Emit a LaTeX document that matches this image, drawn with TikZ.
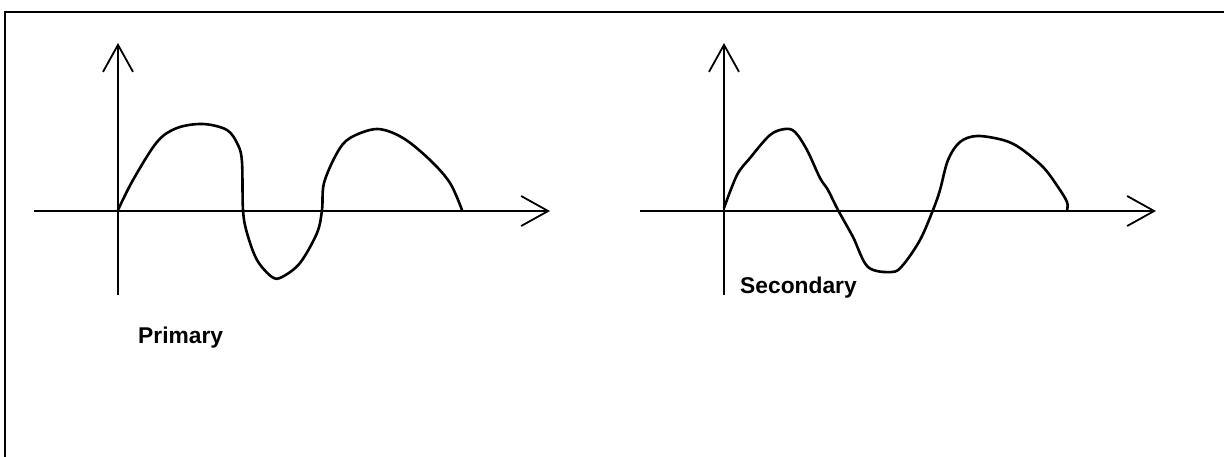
\documentclass[tikz,border=0pt]{standalone}
\usepackage{fontspec}
\setmainfont{Liberation Sans}
\usetikzlibrary{arrows.meta}

\begin{document}
\begin{tikzpicture}[x=1pt, y=-1pt,
  axis/.style={line width=1.8pt, -{Straight Barb[length=27pt, width=30pt, line width=1.8pt]}},
  wave/.style={line width=2.6pt, line join=round, line cap=round},
  caption/.style={font=\fontsize{22.8}{24}\selectfont\bfseries, inner sep=0pt, anchor=base west}
]
\useasboundingbox (0,0) rectangle (1224,456);
\clip (0,0) rectangle (1224,456);
\fill[white] (0,0) rectangle (1224,456);
% frame, running off the page
\draw[line width=1.6pt] (5,470) -- (5,12) -- (1240,12);

% axes of both plots
\foreach \ox in {118,724} {
  \coordinate (o) at (\ox,211);
  \draw[axis] ([xshift=-84pt]o) -- ([xshift=432pt]o);
  \draw[axis] ([yshift=-84pt]o) -- ([yshift=168pt]o);
}

% primary
\draw[wave] plot[smooth, tension=0.55] coordinates {
  (118,210) (133,180) (157,142) (177,128) (203,124) (227,130) (238,145)
  (242,162) (243,210) (247,233) (257,260) (272,277) (282,277) (300,263)
  (317,233) (322,210) (324,183) (337,153) (350,138) (377,129) (403,138)
  (430,160) (450,183) (462,210)};

% secondary
\draw[wave] plot[smooth, tension=0.55] coordinates {
  (724,208) (737,175) (750,158) (770,135) (785,129) (795,132) (807,150)
  (820,178) (828,190) (838,210) (853,237) (868,267) (892,272) (903,265)
  (920,240) (933,210) (940,190) (948,160) (960,142) (977,136) (1003,140)
  (1020,148) (1043,167) (1058,187) (1067,202) (1067,210)};

\node[caption] (primlabel) at (138,343) {Primary};
\node[caption] (seclabel) at (740,293) {Secondary};
\end{tikzpicture}
\end{document}
